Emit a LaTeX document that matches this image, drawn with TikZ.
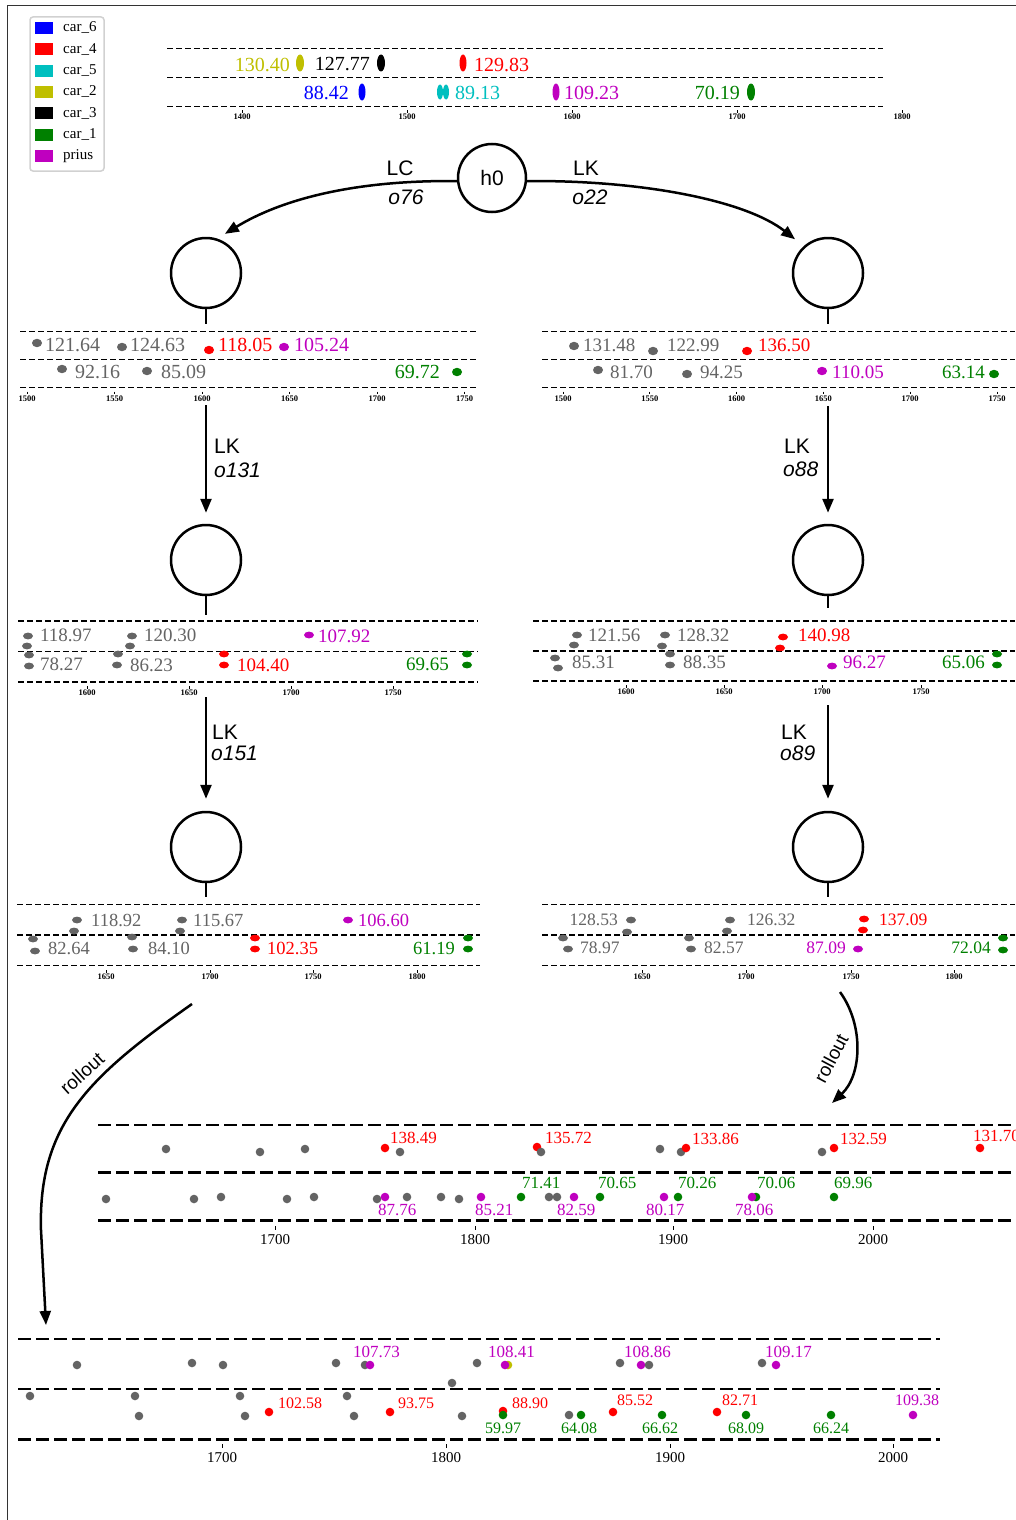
\documentclass[tikz,border=0pt]{standalone}
\usepackage{fontspec}
\setmainfont{Liberation Serif}
\newfontfamily\sansf{Liberation Sans}
\usetikzlibrary{arrows.meta}
\definecolor{colGy}{RGB}{100,100,100}
\definecolor{colRd}{RGB}{255,0,0}
\definecolor{colGn}{RGB}{0,128,0}
\definecolor{colMg}{RGB}{191,0,191}
\definecolor{colCy}{RGB}{0,191,191}
\definecolor{colOl}{RGB}{191,191,0}
\definecolor{colBl}{RGB}{0,0,255}
\definecolor{colBk}{RGB}{0,0,0}
\newcounter{vn}
\def\drx{5pt}\def\dry{3.5pt}
\newcommand\tv[5]{\stepcounter{vn}\node[val,text=#1,anchor=#2] (v\arabic{vn}) at (#3,#4) {#5};}
\newcommand\dt[3]{\fill[#1] (#2,#3) ellipse ({\drx} and {\dry});}
\newcommand\tk[3]{\draw[line width=0.7pt] (#1,#2-7) -- (#1,#2-4.5); \stepcounter{vn}\node[tickl] (k\arabic{vn}) at (#1,#2) {#3};}
\newcommand\btk[3]{\draw[line width=1pt] (#1,#2-14) -- (#1,#2-10); \stepcounter{vn}\node[btickl] (k\arabic{vn}) at (#1,#2) {#3};}
\newcommand\legitem[3]{\fill[#1] (35,#2-6) rectangle (53,#2+6); \stepcounter{vn}\node[leg] (g\arabic{vn}) at (63,#2) {#3};}
\begin{document}
\begin{tikzpicture}[x=1pt,y=-1pt,
  val/.style={inner sep=0pt, font=\fontsize{19}{20}\selectfont},
  tickl/.style={inner sep=0pt, font=\bfseries\fontsize{8.5}{9}\selectfont},
  btickl/.style={inner sep=0pt, font=\fontsize{15}{16}\selectfont},
  leg/.style={inner sep=0pt, anchor=west, font=\fontsize{15}{16}\selectfont},
  lane/.style={dash pattern=on 6pt off 3pt, line width=1.5pt},
  blane/.style={dash pattern=on 13pt off 5pt, line width=2.6pt},
  tnode/.style={circle, draw, line width=2.5pt, minimum size=70pt, inner sep=0pt},
  edge/.style={line width=2.5pt, -{Triangle[length=14pt,width=11pt]}},
  stub/.style={line width=2.5pt},
  elab/.style={inner sep=0pt, font=\sansf\fontsize{21}{22}\selectfont},
  eital/.style={inner sep=0pt, font=\sansf\itshape\fontsize{21}{22}\selectfont},
  rot/.style={inner sep=0pt, font=\sansf\fontsize{19}{20}\selectfont}]
\useasboundingbox (0,0) rectangle (1015,1520);
\draw[line width=1pt, black!80] (7.5,1525) -- (7.5,5.5) -- (1020,5.5);

% legend
\draw[rounded corners=3pt, line width=1.5pt, black!18, fill=white] (30,17) rectangle (104,171);
\legitem{colBl}{28}{car\_6}
\legitem{colRd}{49.3}{car\_4}
\legitem{colCy}{70.6}{car\_5}
\legitem{colOl}{92}{car\_2}
\legitem{colBk}{113.3}{car\_3}
\legitem{colGn}{134.6}{car\_1}
\legitem{colMg}{156}{prius}

% top strip
\foreach \yy in {48.5,77.5,106.5} \draw[lane] (167,\yy) -- (883,\yy);
\tk{242}{117}{1400}\tk{407}{117}{1500}\tk{572}{117}{1600}\tk{737}{117}{1700}\tk{902}{117}{1800}
\begin{scope}[val/.append style={font=\fontsize{20}{21}\selectfont}]
\fill[colOl] (300,63) ellipse (4pt and 8.5pt);
\tv{colOl}{east}{290}{64.5}{130.40}
\fill[colBk] (381,63) ellipse (4pt and 8.5pt);
\tv{colBk}{east}{370}{64.5}{127.77}
\fill[colRd] (463,63) ellipse (3.5pt and 8.5pt);
\tv{colRd}{west}{474}{64.5}{129.83}
\fill[colBl] (362,92) ellipse (3.5pt and 8.5pt);
\tv{colBl}{east}{349}{93}{88.42}
\fill[colCy] (440,92) ellipse (3pt and 7.5pt);
\fill[colCy] (446,92) ellipse (3pt and 7.5pt);
\tv{colCy}{west}{455}{93}{89.13}
\fill[colMg] (556,92) ellipse (3.5pt and 8.5pt);
\tv{colMg}{west}{564}{93}{109.23}
\fill[colGn] (751,92) ellipse (4pt and 8.5pt);
\tv{colGn}{east}{740}{93}{70.19}
\end{scope}

% tree nodes
\node[tnode, minimum size=68pt, font=\sansf\fontsize{21}{22}\selectfont] (h0) at (492,178) {h0};
\node[tnode] (L1) at (206,273) {};
\node[tnode] (R1) at (828,273) {};
\node[tnode] (L2) at (206,560) {};
\node[tnode] (R2) at (828,560) {};
\node[tnode] (L3) at (206,847) {};
\node[tnode] (R3) at (828,847) {};
\coordinate (L1t) at (206,324); \coordinate (R1t) at (828,324);
\coordinate (L2t) at (206,615); \coordinate (R2t) at (828,608);
\coordinate (L3t) at (206,897); \coordinate (R3t) at (828,897);
\coordinate (L1b) at (206,405); \coordinate (R1b) at (828,406);
\coordinate (L2b) at (206,697); \coordinate (R2b) at (828,705);
\coordinate (L3b) at (192,1004); \coordinate (R3b) at (840,992);
\coordinate (RA) at (832,1103); \coordinate (RB) at (46,1325);
\draw[stub] (L1) -- (L1t); \draw[stub] (R1) -- (R1t);
\draw[stub] (L2) -- (L2t); \draw[stub] (R2) -- (R2t);
\draw[stub] (L3) -- (L3t); \draw[stub] (R3) -- (R3t);

\draw[edge, shorten >=9pt] (h0.185) .. controls (355,180) and (282,199) .. (L1.72);
\draw[edge, shorten >=11pt] (h0.-5) .. controls (640,180) and (745,200) .. (R1.132);
\node[elab] (lc1) at (400,168) {LC};
\node[eital] (lc2) at (406,197) {o76};
\node[elab] (lk1) at (586,168) {LK};
\node[eital] (lk2) at (590,197) {o22};

\draw[edge, shorten >=11pt] (L1b) -- (L2);
\draw[edge, shorten >=11pt] (R1b) -- (R2);
\draw[edge, shorten >=12pt] (L2b) -- (L3);
\draw[edge, shorten >=12pt] (R2b) -- (R3);
\node[elab, anchor=west] (a1) at (214,446) {LK};
\node[eital, anchor=west] (a2) at (214,470) {o131};
\node[elab, anchor=west] (b1) at (784,446) {LK};
\node[eital, anchor=west] (b2) at (783,469) {o88};
\node[elab, anchor=west] (c1) at (212,732) {LK};
\node[eital, anchor=west] (c2) at (211,753) {o151};
\node[elab, anchor=west] (d1) at (781,732) {LK};
\node[eital, anchor=west] (d2) at (780,753) {o89};

% rollout arrows
\draw[edge] (L3b) .. controls (88,1077) and (38,1125) .. (41,1230) -- (RB);
\draw[edge] (R3b) .. controls (864,1025) and (862,1075) .. (RA);
\node[rot, rotate=42] (ro1) at (82,1073) {rollout};
\node[rot, rotate=62] (ro2) at (831,1058) {rollout};

% strip L1
\foreach \yy in {331.5,359.5,387.5} \draw[lane] (20,\yy) -- (478,\yy);
\tk{27}{398.5}{1500}\tk{114.6}{398.5}{1550}\tk{202}{398.5}{1600}\tk{289.5}{398.5}{1650}\tk{377}{398.5}{1700}\tk{464.5}{398.5}{1750}
\begin{scope}[val/.append style={font=\fontsize{20}{21}\selectfont}]
\def\drx{5pt}\def\dry{4.2pt}
\dt{colGy}{37}{343}\dt{colGy}{122}{347}\dt{colRd}{209}{350}\dt{colMg}{284}{347}
\dt{colGy}{62}{369}\dt{colGy}{147}{371}\dt{colGn}{457}{372}
\tv{colGy}{west}{45}{345}{121.64}
\tv{colGy}{west}{130}{345}{124.63}
\tv{colRd}{west}{218}{345}{118.05}
\tv{colMg}{west}{294}{345}{105.24}
\tv{colGy}{west}{75}{372}{92.16}
\tv{colGy}{west}{161}{372}{85.09}
\tv{colGn}{east}{440}{372}{69.72}
\end{scope}

% strip R1
\foreach \yy in {331.5,359.5,387.5} \draw[lane] (542,\yy) -- (1015,\yy);
\tk{563}{398.5}{1500}\tk{649.8}{398.5}{1550}\tk{736.6}{398.5}{1600}\tk{823.4}{398.5}{1650}\tk{910.2}{398.5}{1700}\tk{997}{398.5}{1750}
\begin{scope}[val/.append style={font=\fontsize{19}{20}\selectfont}]
\def\drx{5pt}\def\dry{4.2pt}
\dt{colGy}{574}{346}\dt{colGy}{653}{351}\dt{colRd}{747}{351}
\dt{colGy}{598}{370}\dt{colGy}{687}{374}\dt{colMg}{822}{371}\dt{colGn}{994}{374}
\tv{colGy}{west}{583}{345}{131.48}
\tv{colGy}{west}{667}{345}{122.99}
\tv{colRd}{west}{758}{345}{136.50}
\tv{colGy}{west}{610}{372}{81.70}
\tv{colGy}{west}{700}{372}{94.25}
\tv{colMg}{west}{832}{372}{110.05}
\tv{colGn}{east}{985}{372}{63.14}
\end{scope}

% strip L2
\foreach \yy in {621,651.5,682} \draw[lane] (18,\yy) -- (478,\yy);
\tk{87}{693}{1600}\tk{189}{693}{1650}\tk{291}{693}{1700}\tk{393}{693}{1750}
\begin{scope}[val/.append style={font=\fontsize{19}{20}\selectfont}]
\def\drx{5pt}\def\dry{3.4pt}
\dt{colGy}{28}{636}\dt{colGy}{27}{646}\dt{colGy}{29}{655}\dt{colGy}{29}{666}
\dt{colGy}{132}{636}\dt{colGy}{130}{646}\dt{colGy}{118}{654}\dt{colGy}{117}{665}
\dt{colMg}{309}{635}\dt{colRd}{224}{654}\dt{colRd}{224}{665}
\dt{colGn}{467}{654}\dt{colGn}{467}{665}
\tv{colGy}{west}{40}{635}{118.97}
\tv{colGy}{west}{144}{635}{120.30}
\tv{colMg}{west}{318}{636}{107.92}
\tv{colGy}{west}{40}{664}{78.27}
\tv{colGy}{west}{130}{665}{86.23}
\tv{colRd}{west}{237}{665}{104.40}
\tv{colGn}{east}{449}{664}{69.65}
\end{scope}

% strip R2
\foreach \yy in {621,651,681} \draw[lane] (533,\yy) -- (1015,\yy);
\tk{626}{692}{1600}\tk{724}{692}{1650}\tk{822}{692}{1700}\tk{921}{692}{1750}
\begin{scope}[val/.append style={font=\fontsize{19}{20}\selectfont}]
\def\drx{5pt}\def\dry{3.4pt}
\dt{colGy}{577}{635}\dt{colGy}{574}{645}\dt{colGy}{665}{635}\dt{colGy}{662}{646}
\dt{colRd}{783}{637}\dt{colRd}{780}{648}
\dt{colGy}{555}{658}\dt{colGy}{558}{668}\dt{colGy}{670}{654}\dt{colGy}{670}{665}
\dt{colMg}{832}{666}\dt{colGn}{997}{654}\dt{colGn}{997}{665}
\tv{colGy}{west}{588}{635}{121.56}
\tv{colGy}{west}{677}{635}{128.32}
\tv{colRd}{west}{798}{635}{140.98}
\tv{colGy}{west}{572}{662}{85.31}
\tv{colGy}{west}{683}{662}{88.35}
\tv{colMg}{west}{843}{662}{96.27}
\tv{colGn}{east}{985}{662}{65.06}
\end{scope}

% strip L3
\foreach \yy in {904.5,935,965.5} \draw[lane] (17,\yy) -- (480,\yy);
\tk{106}{977}{1650}\tk{210}{977}{1700}\tk{313}{977}{1750}\tk{417}{977}{1800}
\begin{scope}[val/.append style={font=\fontsize{18.5}{19}\selectfont}]
\def\drx{5pt}\def\dry{3.4pt}
\dt{colGy}{77}{920}\dt{colGy}{74}{931}\dt{colGy}{182}{920}\dt{colGy}{180}{931}
\dt{colMg}{348}{920}
\dt{colGy}{33}{939}\dt{colGy}{35}{951}\dt{colGy}{132}{937}\dt{colGy}{133}{949}
\dt{colRd}{255}{938}\dt{colRd}{255}{949}\dt{colGn}{468}{938}\dt{colGn}{468}{949}
\tv{colGy}{west}{91}{920}{118.92}
\tv{colGy}{west}{193}{920}{115.67}
\tv{colMg}{west}{358}{920}{106.60}
\tv{colGy}{west}{48}{948}{82.64}
\tv{colGy}{west}{148}{948}{84.10}
\tv{colRd}{west}{267}{948}{102.35}
\tv{colGn}{east}{455}{948}{61.19}
\end{scope}

% strip R3
\foreach \yy in {904.5,935,965.5} \draw[lane] (542,\yy) -- (1015,\yy);
\tk{642}{977}{1650}\tk{746}{977}{1700}\tk{851}{977}{1750}\tk{954}{977}{1800}
\begin{scope}[val/.append style={font=\fontsize{17.5}{18}\selectfont}]
\def\drx{5pt}\def\dry{3.4pt}
\dt{colGy}{631}{920}\dt{colGy}{627}{932}\dt{colGy}{730}{920}\dt{colGy}{727}{931}
\dt{colRd}{864}{919}\dt{colRd}{863}{930}
\dt{colGy}{563}{938}\dt{colGy}{568}{949}\dt{colGy}{689}{938}\dt{colGy}{691}{949}
\dt{colMg}{858}{949}\dt{colGn}{1003}{938}\dt{colGn}{1003}{950}
\tv{colGy}{east}{618}{920}{128.53}
\tv{colGy}{west}{747}{920}{126.32}
\tv{colRd}{west}{879}{920}{137.09}
\tv{colGy}{west}{580}{948}{78.97}
\tv{colGy}{west}{704}{948}{82.57}
\tv{colMg}{east}{846}{948}{87.09}
\tv{colGn}{east}{991}{948}{72.04}
\end{scope}

% rollout strip A
\foreach \yy in {1125,1172.5,1220.5} \draw[blane] (98,\yy) -- (1015,\yy);
\btk{275}{1240}{1700}\btk{475}{1240}{1800}\btk{673}{1240}{1900}\btk{873}{1240}{2000}
\begin{scope}[val/.append style={font=\fontsize{17}{18}\selectfont}]
\def\drx{4.3pt}\def\dry{4.3pt}
\dt{colGy}{166}{1149}\dt{colGy}{260}{1152}\dt{colGy}{305}{1149}\dt{colGy}{400}{1152}\dt{colRd}{385}{1148}
\dt{colRd}{537}{1147}\dt{colGy}{541}{1152}\dt{colGy}{660}{1149}\dt{colGy}{681}{1152}\dt{colRd}{686}{1148}
\dt{colGy}{822}{1152}\dt{colRd}{834}{1148}\dt{colRd}{980}{1148}
\tv{colRd}{west}{390}{1138}{138.49}
\tv{colRd}{west}{545}{1138}{135.72}
\tv{colRd}{west}{692}{1139}{133.86}
\tv{colRd}{west}{840}{1139}{132.59}
\tv{colRd}{west}{973}{1136}{131.70}
\dt{colGy}{106}{1199}\dt{colGy}{194}{1199}\dt{colGy}{221}{1197}\dt{colGy}{287}{1199}\dt{colGy}{314}{1197}
\dt{colGy}{377}{1199}\dt{colMg}{385}{1197}\dt{colGy}{407}{1197}\dt{colGy}{441}{1197}\dt{colGy}{459}{1199}
\dt{colMg}{481}{1197}\dt{colGn}{521}{1197}\dt{colGy}{549}{1197}\dt{colGy}{557}{1197}\dt{colMg}{574}{1197}
\dt{colGn}{600}{1197}\dt{colMg}{664}{1197}\dt{colGn}{678}{1197}\dt{colGn}{756}{1197}\dt{colMg}{752}{1197}
\dt{colGn}{834}{1197}
\tv{colMg}{west}{378}{1210}{87.76}
\tv{colMg}{west}{475}{1210}{85.21}
\tv{colGn}{west}{522}{1183}{71.41}
\tv{colMg}{west}{557}{1210}{82.59}
\tv{colGn}{west}{598}{1183}{70.65}
\tv{colMg}{west}{646}{1210}{80.17}
\tv{colGn}{west}{678}{1183}{70.26}
\tv{colMg}{west}{735}{1210}{78.06}
\tv{colGn}{west}{757}{1183}{70.06}
\tv{colGn}{west}{834}{1183}{69.96}
\end{scope}

% rollout strip B
\foreach \yy in {1339,1389,1439.5} \draw[blane] (18,\yy) -- (940,\yy);
\btk{222}{1458}{1700}\btk{446}{1458}{1800}\btk{670}{1458}{1900}\btk{893}{1458}{2000}
\begin{scope}[val/.append style={font=\fontsize{17}{18}\selectfont}]
\def\drx{4.3pt}\def\dry{4.3pt}
\dt{colGy}{77}{1365}\dt{colGy}{192}{1363}\dt{colGy}{223}{1365}\dt{colGy}{336}{1363}\dt{colGy}{365}{1365}
\dt{colMg}{370}{1365}\dt{colGy}{477}{1363}\dt{colOl}{508}{1365}\dt{colMg}{505}{1365}\dt{colGy}{620}{1363}
\dt{colMg}{641}{1365}\dt{colGy}{649}{1365}\dt{colGy}{762}{1363}\dt{colMg}{776}{1365}
\tv{colMg}{west}{353}{1352}{107.73}
\tv{colMg}{west}{488}{1352}{108.41}
\tv{colMg}{west}{624}{1352}{108.86}
\tv{colMg}{west}{765}{1352}{109.17}
\dt{colGy}{30}{1396}\dt{colGy}{135}{1396}\dt{colGy}{139}{1416}\dt{colGy}{240}{1396}\dt{colGy}{245}{1416}
\dt{colRd}{269}{1412}\dt{colGy}{347}{1396}\dt{colGy}{354}{1416}\dt{colRd}{390}{1412}\dt{colGy}{452}{1383}
\dt{colGy}{462}{1416}\dt{colRd}{503}{1411}\dt{colGn}{503}{1415}\dt{colGy}{569}{1415}\dt{colGn}{581}{1415}
\dt{colRd}{613}{1412}\dt{colGn}{662}{1415}\dt{colRd}{717}{1412}\dt{colGn}{746}{1415}\dt{colGn}{831}{1415}
\dt{colMg}{913}{1415}
\end{scope}
\begin{scope}[val/.append style={font=\fontsize{16}{17}\selectfont}]
\tv{colRd}{west}{278}{1403}{102.58}
\tv{colRd}{west}{398}{1403}{93.75}
\tv{colRd}{west}{512}{1403}{88.90}
\tv{colGn}{west}{485}{1428}{59.97}
\tv{colGn}{west}{561}{1428}{64.08}
\tv{colRd}{west}{617}{1400}{85.52}
\tv{colGn}{west}{642}{1428}{66.62}
\tv{colRd}{west}{722}{1400}{82.71}
\tv{colGn}{west}{728}{1428}{68.09}
\tv{colGn}{west}{813}{1428}{66.24}
\tv{colMg}{west}{895}{1400}{109.38}
\end{scope}
\end{tikzpicture}
\end{document}
